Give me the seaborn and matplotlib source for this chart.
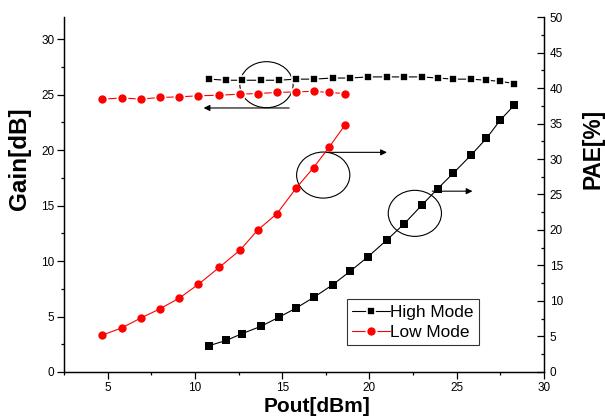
import matplotlib
matplotlib.use("Agg")
import matplotlib.pyplot as plt
from matplotlib.patches import Ellipse
from matplotlib.ticker import MultipleLocator
from matplotlib.lines import Line2D
import seaborn as sns
import pandas as pd

# Output power for each mode
pout_high = [10.8, 11.8, 12.7, 13.8, 14.8, 15.8, 16.8, 17.9, 18.9, 19.9,
             21.0, 22.0, 23.0, 23.9, 24.8, 25.8, 26.7, 27.5, 28.3]
pout_low = [4.7, 5.8, 6.9, 8.0, 9.1, 10.2, 11.4, 12.6, 13.6, 14.7,
            15.8, 16.8, 17.7, 18.6]

# Gain [dB]
gain_high = [26.4, 26.3, 26.3, 26.3, 26.3, 26.4, 26.4, 26.5, 26.5, 26.6,
             26.6, 26.6, 26.6, 26.5, 26.4, 26.4, 26.3, 26.2, 26.0]
gain_low = [24.6, 24.7, 24.6, 24.75, 24.8, 24.9, 24.95, 25.05, 25.1, 25.2,
            25.25, 25.3, 25.2, 25.1]

# PAE [%]
pae_high = [3.7, 4.45, 5.4, 6.45, 7.7, 9.0, 10.5, 12.3, 14.2, 16.2,
            18.6, 20.9, 23.5, 25.8, 28.0, 30.5, 32.9, 35.5, 37.6]
pae_low = [5.2, 6.2, 7.6, 8.9, 10.4, 12.35, 14.75, 17.2, 20.0, 22.3,
           25.9, 28.8, 31.7, 34.8]

labels = ["High Mode", "Low Mode"]
colors = ["black", "red"]

sns.set_style("ticks")
plt.rcParams["font.family"] = ["Liberation Sans", "DejaVu Sans"]
plt.rcParams.update({"text.color": "black", "axes.labelcolor": "black",
                     "xtick.color": "black", "ytick.color": "black"})

fig = plt.figure(figsize=(6.05, 4.19), dpi=100)
ax1 = fig.add_axes([0.1058, 0.1122, 0.7934, 0.8472])
ax2 = ax1.twinx()

df_high = pd.DataFrame({"pout": pout_high, "gain": gain_high, "pae": pae_high})
df_low = pd.DataFrame({"pout": pout_low, "gain": gain_low, "pae": pae_low})

# gain curves (left axis) - little gap between line and symbol
sns.lineplot(data=df_high, x="pout", y="gain", ax=ax1, color=colors[0], lw=0.8,
             marker="s", markersize=6.3, markeredgecolor="white", markeredgewidth=1.2)
sns.lineplot(data=df_low, x="pout", y="gain", ax=ax1, color=colors[1], lw=0.8,
             marker="o", markersize=7.2, markeredgecolor="white", markeredgewidth=1.2)

# PAE curves (right axis)
sns.lineplot(data=df_high, x="pout", y="pae", ax=ax2, color=colors[0], lw=0.8,
             marker="s", markersize=5.3, markeredgecolor=colors[0], markeredgewidth=0)
sns.lineplot(data=df_low, x="pout", y="pae", ax=ax2, color=colors[1], lw=0.8,
             marker="o", markersize=6.0, markeredgecolor=colors[1], markeredgewidth=0)

ax1.set_xlim(2.5, 30)
ax1.set_ylim(0, 32)
ax2.set_ylim(0, 50)
ax1.xaxis.set_major_locator(MultipleLocator(5))
ax1.xaxis.set_minor_locator(MultipleLocator(2.5))
ax1.yaxis.set_major_locator(MultipleLocator(5))
ax1.yaxis.set_minor_locator(MultipleLocator(2.5))
ax2.yaxis.set_major_locator(MultipleLocator(5))
ax2.yaxis.set_minor_locator(MultipleLocator(2.5))

ax1.set_xticks([5, 10, 15, 20, 25, 30])
ax1.set_yticks([0, 5, 10, 15, 20, 25, 30])

ax1.tick_params(axis="both", which="major", direction="out", length=5, width=0.9,
                labelsize=8.5, color="black", labelcolor="black", pad=2)
ax1.tick_params(axis="both", which="minor", direction="out", length=2.5, width=0.9,
                color="black")
ax2.tick_params(axis="y", which="major", direction="in", length=5, width=0.9,
                labelsize=8.5, color="black", labelcolor="black", pad=4)
ax2.tick_params(axis="y", which="minor", direction="in", length=2.5, width=0.9,
                color="black")

for ax in (ax1, ax2):
    ax.spines["top"].set_visible(False)
    for s in ("left", "right", "bottom"):
        ax.spines[s].set_linewidth(0.9)
        ax.spines[s].set_color("black")

ax1.set_xlabel("Pout[dBm]", fontsize=15, fontweight="bold", color="black")
ax1.set_ylabel("Gain[dB]", fontsize=17.5, fontweight="bold", color="black")
ax2.set_ylabel("PAE[%]", fontsize=16.4, fontweight="bold", color="black")
ax1.xaxis.set_label_coords(0.527, -0.096)
ax1.yaxis.set_label_coords(-0.092, 0.60)
ax2.yaxis.set_label_coords(1.102, 0.628)
ax1.xaxis.label.set_va("center")
ax1.yaxis.label.set_va("center")
ax2.yaxis.label.set_va("center")
ax2.yaxis.label.set_rotation(90)

# ellipses with arrows pointing to the matching axis
for cx, cy in [(14.1, 25.9), (17.35, 17.75), (22.6, 14.3)]:
    ax1.add_patch(Ellipse((cx, cy), 3.05, 4.15, fill=False, edgecolor="black", lw=0.8))

arrow = dict(arrowstyle="-|>", color="black", lw=0.8, mutation_scale=9,
             shrinkA=0, shrinkB=0)
ax1.annotate("", xy=(10.5, 23.8), xytext=(15.4, 23.8), arrowprops=arrow)
ax1.annotate("", xy=(21.0, 19.8), xytext=(17.5, 19.8), arrowprops=arrow)
ax1.annotate("", xy=(25.9, 16.3), xytext=(23.6, 16.3), arrowprops=arrow)

handles = [
    Line2D([], [], color=colors[0], lw=0.8, marker="s", markersize=6.3,
           markeredgecolor="white", markeredgewidth=1.2),
    Line2D([], [], color=colors[1], lw=0.8, marker="o", markersize=7.2,
           markeredgecolor="white", markeredgewidth=1.2),
]
leg = ax2.legend(handles, labels, loc="lower left", bbox_to_anchor=(0.59, 0.076),
                 fontsize=12.4, frameon=True, fancybox=False, borderpad=0.3,
                 handlelength=2.2, handletextpad=0.0, labelspacing=0.3,
                 borderaxespad=0, labelcolor="black")
leg.get_frame().set_edgecolor("black")
leg.get_frame().set_linewidth(0.8)

fig.savefig("out.png", dpi=100)
